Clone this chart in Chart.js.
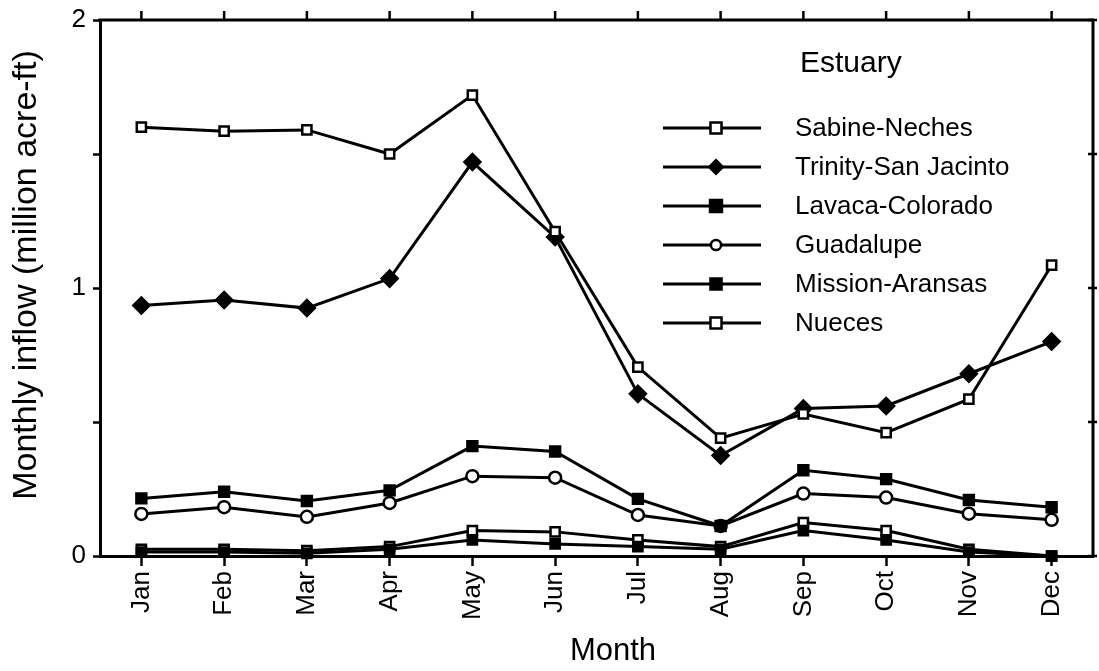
<!DOCTYPE html>
<html>
<head>
<meta charset="utf-8">
<script src="https://cdn.jsdelivr.net/npm/chart.js@4.4.1/dist/chart.umd.min.js"></script>
<style>
  html, body { margin: 0; padding: 0; background: #fff; }
  #wrap { width: 1099px; height: 671px; }
</style>
</head>
<body>
<div id="wrap"><canvas id="c" width="1099" height="671"></canvas></div>
<script>
// Monthly freshwater inflow to Texas estuaries (million acre-ft)
const months = ['Jan', 'Feb', 'Mar', 'Apr', 'May', 'Jun', 'Jul', 'Aug', 'Sep', 'Oct', 'Nov', 'Dec'];
const sabineNeches      = [1.60, 1.585, 1.59, 1.50, 1.72, 1.21, 0.705, 0.44, 0.53, 0.46, 0.585, 1.085];
const trinitySanJacinto = [0.935, 0.955, 0.925, 1.035, 1.47, 1.19, 0.605, 0.375, 0.55, 0.56, 0.68, 0.80];
const lavacaColorado    = [0.215, 0.24, 0.205, 0.245, 0.41, 0.39, 0.213, 0.112, 0.32, 0.287, 0.209, 0.182];
const guadalupe         = [0.157, 0.182, 0.146, 0.198, 0.298, 0.292, 0.153, 0.112, 0.233, 0.218, 0.158, 0.135];
const missionAransas    = [0.015, 0.015, 0.01, 0.025, 0.06, 0.045, 0.035, 0.025, 0.095, 0.06, 0.015, 0.0];
const nueces            = [0.025, 0.025, 0.02, 0.035, 0.095, 0.09, 0.06, 0.035, 0.125, 0.095, 0.025, 0.0];
const yTicks = [0, 0.5, 1, 1.5, 2];
const yLabels = { 0: '0', 1: '1', 2: '2' };
const xTitle = 'Month';
const yTitle = 'Monthly inflow (million acre-ft)';
const legendTitle = 'Estuary';

const FONT = '"Liberation Sans", Arial, Helvetica, sans-serif';
const INK = '#000';

// marker descriptions: shape + fill
const series = [
  { label: 'Sabine-Neches',       data: sabineNeches,      shape: 'rect',    fill: '#fff', r: 6.5 },
  { label: 'Trinity-San Jacinto', data: trinitySanJacinto, shape: 'rectRot', fill: INK,    r: 8 },
  { label: 'Lavaca-Colorado',     data: lavacaColorado,    shape: 'rect',    fill: INK,    r: 7 },
  { label: 'Guadalupe',           data: guadalupe,         shape: 'circle',  fill: '#fff', r: 6 },
  { label: 'Mission-Aransas',     data: missionAransas,    shape: 'rect',    fill: INK,    r: 6.5 },
  { label: 'Nueces',              data: nueces,            shape: 'rect',    fill: '#fff', r: 6.5 }
];

function drawMarker(ctx, shape, x, y, r, fill) {
  ctx.save();
  ctx.fillStyle = fill;
  ctx.strokeStyle = INK;
  ctx.lineWidth = 2.5;
  ctx.beginPath();
  if (shape === 'rect') {
    ctx.rect(x - r, y - r, 2 * r, 2 * r);
  } else if (shape === 'rectRot') {
    ctx.moveTo(x, y - r); ctx.lineTo(x + r, y); ctx.lineTo(x, y + r); ctx.lineTo(x - r, y); ctx.closePath();
  } else {
    ctx.arc(x, y, r, 0, Math.PI * 2);
  }
  ctx.fill();
  ctx.stroke();
  ctx.restore();
}

// frame on the top and right sides, tick marks mirroring the axes, axis titles
const framePlugin = {
  id: 'frame',
  afterDraw(chart) {
    const { ctx, chartArea: a, scales } = chart;
    ctx.save();
    ctx.strokeStyle = INK;
    ctx.lineWidth = 3;
    ctx.beginPath();
    ctx.moveTo(a.left - 1.5, a.top); ctx.lineTo(a.right, a.top); ctx.lineTo(a.right, a.bottom + 1.5);
    ctx.stroke();
    ctx.lineWidth = 2.5;
    ctx.beginPath();
    months.forEach((m, i) => {
      const x = scales.x.getPixelForValue(i);
      ctx.moveTo(x, a.top); ctx.lineTo(x, a.top - 9);
    });
    yTicks.forEach(v => {
      const y = scales.y.getPixelForValue(v);
      ctx.moveTo(a.right - 5, y); ctx.lineTo(a.right + 4, y);
    });
    ctx.stroke();

    ctx.fillStyle = INK;
    ctx.textAlign = 'center';
    ctx.textBaseline = 'middle';
    ctx.font = '31px ' + FONT;
    ctx.fillText(xTitle, 613, 651);
    ctx.translate(27, 275);
    ctx.rotate(-Math.PI / 2);
    ctx.font = '34px ' + FONT;
    ctx.fillText(yTitle, 0, 0);
    ctx.restore();
  }
};

// legend block inside the plot area
const legendPlugin = {
  id: 'estuaryLegend',
  afterDatasetsDraw(chart) {
    const { ctx } = chart;
    ctx.save();
    ctx.fillStyle = INK;
    ctx.textBaseline = 'middle';
    ctx.textAlign = 'left';
    ctx.font = '30px ' + FONT;
    ctx.fillText(legendTitle, 800, 64);
    ctx.font = '26px ' + FONT;
    series.forEach((s, i) => {
      const y = 128 + i * 39;
      ctx.strokeStyle = INK;
      ctx.lineWidth = 3;
      ctx.beginPath();
      ctx.moveTo(663, y); ctx.lineTo(761, y);
      ctx.stroke();
      drawMarker(ctx, s.shape, 716, y, s.r * 0.85, s.fill);
      ctx.fillStyle = INK;
      ctx.fillText(s.label, 795, y + 1);
    });
    ctx.restore();
  }
};

const datasets = series.map(s => ({
  label: s.label,
  data: s.data,
  borderColor: INK,
  borderWidth: 3,
  backgroundColor: s.fill,
  pointStyle: s.shape,
  pointRadius: s.r,
  pointBorderWidth: 2.5,
  pointBorderColor: INK,
  pointBackgroundColor: s.fill,
  tension: 0,
  fill: false,
  clip: false
}));

new Chart(document.getElementById('c'), {
  type: 'line',
  data: { labels: months, datasets },
  options: {
    responsive: false,
    animation: false,
    devicePixelRatio: 1,
    layout: { autoPadding: false, padding: { top: 20, right: 6, left: 0, bottom: 0 } },
    plugins: { legend: { display: false }, tooltip: { enabled: false } },
    elements: { line: { borderJoinStyle: 'miter' } },
    scales: {
      x: {
        type: 'category',
        offset: true,
        grid: { display: true, drawOnChartArea: false, drawTicks: true, tickLength: 10, tickWidth: 2.5, tickColor: INK, offset: false },
        border: { display: true, color: INK, width: 3 },
        ticks: {
          color: INK, font: { family: FONT, size: 26 },
          minRotation: 90, maxRotation: 90, autoSkip: false, padding: 5
        },
        title: { display: false },
        afterFit(scale) {
          scale.height = 115;
          scale.paddingLeft = 0;
          scale.paddingRight = 0;
        }
      },
      y: {
        type: 'linear',
        min: 0, max: 2,
        afterBuildTicks(scale) { scale.ticks = yTicks.map(v => ({ value: v })); },
        grid: { display: true, drawOnChartArea: false, drawTicks: true, tickLength: 7, tickWidth: 2.5, tickColor: INK },
        border: { display: true, color: INK, width: 3 },
        ticks: {
          color: INK, font: { family: FONT, size: 26 }, padding: 7,
          callback(v) { return yLabels[v] !== undefined ? yLabels[v] : ''; }
        },
        title: { display: false },
        afterFit(scale) {
          scale.width = 100;
          scale.paddingTop = 0;
          scale.paddingBottom = 0;
        }
      }
    }
  },
  plugins: [framePlugin, legendPlugin]
});
</script>
</body>
</html>
